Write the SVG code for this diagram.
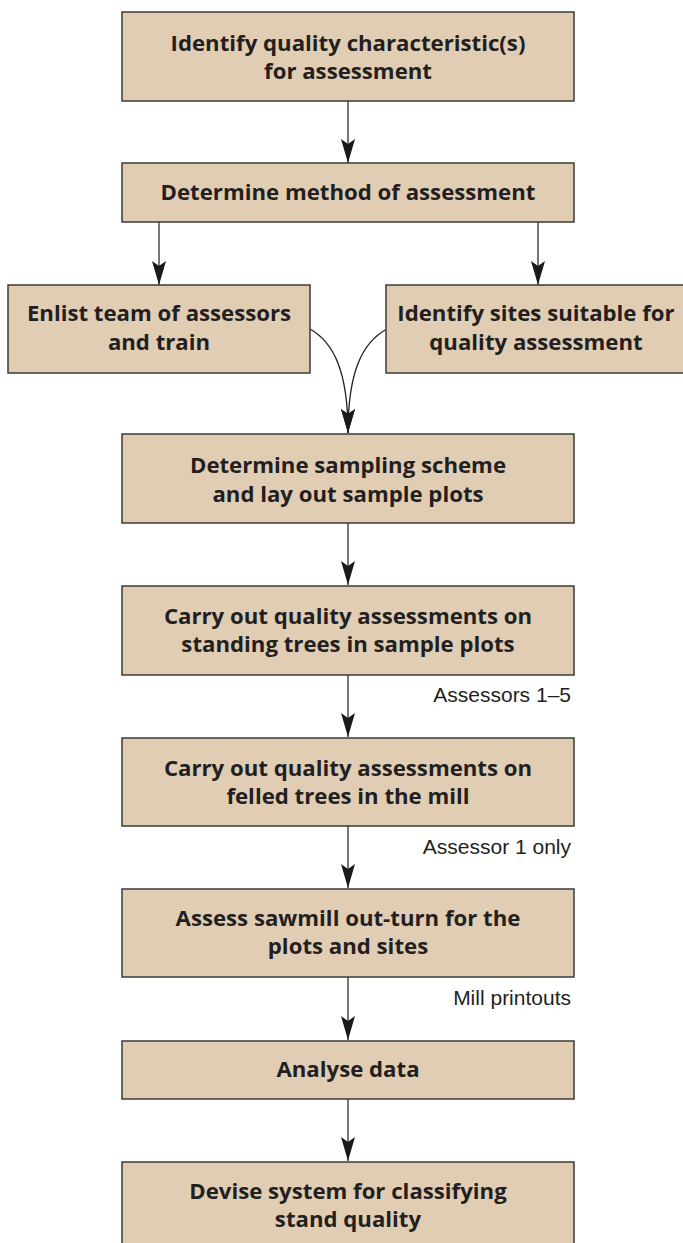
<svg xmlns="http://www.w3.org/2000/svg" width="683" height="1243" viewBox="0 0 683 1243">
<style>
.box{fill:#e0cdb4;stroke:#3a3a3a;stroke-width:1.5}
.t{font-family:"Open Sans","DejaVu Sans",sans-serif;font-weight:700;font-size:22.2px;fill:#231f20;text-anchor:middle}
.lbl{font-family:"Liberation Sans",Arial,sans-serif;font-size:21px;fill:#231f20;text-anchor:end}
.c{fill:none;stroke:#4a4a4a;stroke-width:1.5}
.cc{fill:none;stroke:#231f20;stroke-width:1.3}
</style>
<defs>
<marker id="ah" markerUnits="userSpaceOnUse" viewBox="0 0 24 14" refX="24" refY="7" markerWidth="24" markerHeight="14" orient="auto">
<path d="M0,0 L24,7 L0,14 L5,7 Z" fill="#1a1a1a"/>
</marker>
</defs>
<rect width="683" height="1243" fill="#fff"/>
<g id="connectors">
<line class="c" x1="348" y1="101" x2="348" y2="163" marker-end="url(#ah)"/>
<line class="c" x1="159" y1="222" x2="159" y2="285" marker-end="url(#ah)"/>
<line class="c" x1="538" y1="222" x2="538" y2="285" marker-end="url(#ah)"/>
<path class="cc" d="M310,329 C333,342 348,370 348,433" marker-end="url(#ah)"/>
<path class="cc" d="M387,329 C363,342 348,370 348,433" marker-end="url(#ah)"/>
<line class="c" x1="348" y1="523" x2="348" y2="585" marker-end="url(#ah)"/>
<line class="c" x1="348" y1="675" x2="348" y2="737" marker-end="url(#ah)"/>
<line class="c" x1="348" y1="826" x2="348" y2="888" marker-end="url(#ah)"/>
<line class="c" x1="348" y1="977" x2="348" y2="1040" marker-end="url(#ah)"/>
<line class="c" x1="348" y1="1099" x2="348" y2="1161" marker-end="url(#ah)"/>
<text class="lbl" x="571" y="702">Assessors 1–5</text>
<text class="lbl" x="571" y="854">Assessor 1 only</text>
<text class="lbl" x="571" y="1005">Mill printouts</text>
</g>
<g id="n1"><rect class="box" x="122" y="12" width="452" height="89"/>
<text class="t" x="348" y="51">Identify quality characteristic(s)</text>
<text class="t" x="348" y="79">for assessment</text></g>
<g id="n2"><rect class="box" x="122" y="163" width="452" height="59"/>
<text class="t" x="348" y="200">Determine method of assessment</text></g>
<g id="n3"><rect class="box" x="8" y="285" width="302" height="88"/>
<text class="t" x="159" y="321">Enlist team of assessors</text>
<text class="t" x="159" y="350">and train</text></g>
<g id="n4"><rect class="box" x="386" y="285" width="300" height="88"/>
<text class="t" x="536" y="321">Identify sites suitable for</text>
<text class="t" x="536" y="350">quality assessment</text></g>
<g id="n5"><rect class="box" x="122" y="434" width="452" height="89"/>
<text class="t" x="348" y="473">Determine sampling scheme</text>
<text class="t" x="348" y="502">and lay out sample plots</text></g>
<g id="n6"><rect class="box" x="122" y="586" width="452" height="89"/>
<text class="t" x="348" y="624">Carry out quality assessments on</text>
<text class="t" x="348" y="652">standing trees in sample plots</text></g>
<g id="n7"><rect class="box" x="122" y="738" width="452" height="88"/>
<text class="t" x="348" y="776">Carry out quality assessments on</text>
<text class="t" x="348" y="804">felled trees in the mill</text></g>
<g id="n8"><rect class="box" x="122" y="889" width="452" height="88"/>
<text class="t" x="348" y="926">Assess sawmill out-turn for the</text>
<text class="t" x="348" y="954">plots and sites</text></g>
<g id="n9"><rect class="box" x="122" y="1041" width="452" height="58"/>
<text class="t" x="348" y="1077">Analyse data</text></g>
<g id="n10"><rect class="box" x="122" y="1162" width="452" height="100"/>
<text class="t" x="348" y="1199">Devise system for classifying</text>
<text class="t" x="348" y="1227">stand quality</text></g>
</svg>
